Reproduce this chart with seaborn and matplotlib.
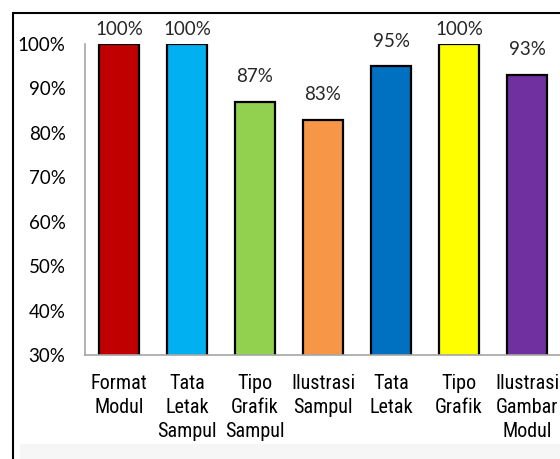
import matplotlib
matplotlib.use("Agg")
import matplotlib.pyplot as plt
import seaborn as sns
import pandas as pd
from matplotlib.patches import Rectangle
from matplotlib import font_manager

categories = ["Format\nModul", "Tata\nLetak\nSampul", "Tipo\nGrafik\nSampul", "Ilustrasi\nSampul",
              "Tata\nLetak", "Tipo\nGrafik", "Ilustrasi\nGambar\nModul"]
values = [100, 100, 87, 83, 95, 100, 93]
colors = ["#C00000", "#00B0F0", "#92D050", "#F79646", "#0070C0", "#FFFF00", "#7030A0"]
yticks = [30, 40, 50, 60, 70, 80, 90, 100]

sns.set_theme(style="white")
plt.rcParams['font.family'] = ['Lato', 'DejaVu Sans']

names = {f.name for f in font_manager.fontManager.ttflist}
narrow_fam = None
for cand in ['Liberation Sans Narrow', 'Roboto Condensed', 'Open Sans Condensed', 'DejaVu Sans Condensed']:
    if cand in names:
        narrow_fam = cand
        break

df = pd.DataFrame({"cat": categories, "val": values})
fig = plt.figure(figsize=(5.6, 4.59), dpi=100)

# faint gray band at the bottom of the chart frame
fig.patches.append(Rectangle((20/560, 0), 1, 15/459, transform=fig.transFigure,
                             facecolor="#F6F6F6", edgecolor="none", zorder=0))

ax = fig.add_axes([85/560, 1 - 355/459, 476/560, (355 - 44)/459])

sns.barplot(data=df, x="cat", y="val", hue="cat", palette=colors, legend=False,
            width=0.59, edgecolor="black", linewidth=1.6, ax=ax, saturation=1)

ax.set_ylim(30, 100)
ax.set_xlim(-0.5, 6.5)
ax.set_yticks(yticks)
ax.set_yticklabels([f"{v}%" for v in yticks], fontsize=13.5, color="black")
ax.set_xlabel("")
ax.set_ylabel("")
ax.tick_params(axis="y", length=0, pad=14)
ax.tick_params(axis="x", length=0, pad=14)
for lab in ax.get_xticklabels():
    if narrow_fam:
        lab.set_fontfamily([narrow_fam, 'DejaVu Sans'])
        lab.set_fontsize(14.5)
    else:
        lab.set_fontfamily(['Roboto', 'DejaVu Sans'])
        lab.set_fontstretch('condensed')
        lab.set_fontsize(13.5)
    lab.set_linespacing(1.32)
    lab.set_color("black")
for s in ["top", "right"]:
    ax.spines[s].set_visible(False)
for s in ["left", "bottom"]:
    ax.spines[s].set_color("#A6A6A6")
    ax.spines[s].set_linewidth(1.2)

# data labels: offset above bar, clamped near top of plot area (like Excel)
for c in ax.containers:
    for patch, v in zip(c.patches, c.datavalues):
        pad_pt = 12 if v < 100 else 4.5
        ax.annotate(f"{v:.0f}%", (patch.get_x() + patch.get_width() / 2, patch.get_height()),
                    xytext=(0, pad_pt), textcoords="offset points", ha="center", va="bottom",
                    fontsize=13.5, annotation_clip=False)

# outer chart border
fig.patches.append(Rectangle((13/560, -0.05), 1.2, 1 - 13/459 + 0.05, transform=fig.transFigure,
                             fill=False, edgecolor="black", linewidth=1.5))

fig.savefig("out.png", dpi=100)
